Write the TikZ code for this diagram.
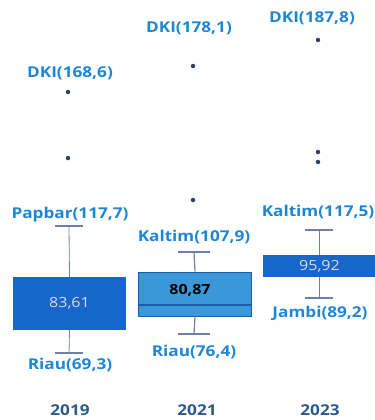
\documentclass[tikz,border=0pt]{standalone}
\usepackage{fontspec}
\setmainfont{Open Sans}[FakeStretch=1.15]
\usepackage{tikz}

\definecolor{lblblue}{HTML}{1E86D6}
\definecolor{boxdark}{HTML}{1766C9}
\definecolor{boxlight}{HTML}{3A97D8}
\definecolor{boxedge}{HTML}{1A5BAA}
\definecolor{wskgrey}{HTML}{6E7FA8}
\definecolor{dotnavy}{HTML}{2C406E}
\definecolor{yrblue}{HTML}{2D5A8C}

\tikzset{
  lbl/.style={text=lblblue, font=\fontsize{15}{17}\selectfont\bfseries, inner sep=0pt},
  yr/.style={text=yrblue, font=\fontsize{15}{17}\selectfont\bfseries, inner sep=0pt},
  outl/.style={circle, fill=dotnavy, inner sep=0pt, minimum size=4.5bp},
  wsk/.style={draw=wskgrey, line width=0.8bp},
  capline/.style={draw=wskgrey, line width=1.2bp},
  boxA/.style={rectangle, fill=boxdark, inner sep=0pt, text=white!85!blue,
    font=\fontsize{14}{16}\selectfont},
  boxB/.style={rectangle, fill=boxlight, draw=boxedge, line width=1bp, inner sep=0pt}
}

\begin{document}
\begin{tikzpicture}[x=1bp,y=-1bp]
    \useasboundingbox (0,0) rectangle (375,420);

    % 2019
    \node[boxA, minimum width=113bp, minimum height=53bp] (b19) at (69.5,303.5) {83,61};
    \coordinate (t19) at (69,226);
    \coordinate (u19) at (69,353);
    \draw[wsk] (t19) -- (b19.north);
    \draw[wsk] (b19.south) -- (u19);
    \draw[capline] ([xshift=-13.5bp]t19) -- ([xshift=13.5bp]t19);
    \draw[capline] ([xshift=-13.5bp]u19) -- ([xshift=13.5bp]u19);
    \node[outl] (o19a) at (68,92) {};
    \node[outl] (o19b) at (68,158) {};
    \node[lbl] (dki19) at (70,73) {DKI(168,6)};
    \node[lbl] (max19) at (70,215) {Papbar(117,7)};
    \node[lbl] (min19) at (70,365) {Riau(69,3)};
    \node[yr] (y19) at (70,410) {2019};

    % 2021
    \node[boxB, minimum width=113bp, minimum height=44bp] (b21) at (195,294) {};
    \node[text=black, font=\fontsize{14}{16}\selectfont\bfseries, inner sep=0pt] (m21) at (190,290) {80,87};
    \draw[draw=boxedge, line width=1.2bp] ([yshift=-11bp]b21.west) -- ([yshift=-11bp]b21.east);
    \coordinate (t21) at (194,252);
    \coordinate (u21) at (194,334);
    \draw[wsk, line width=1.2bp] (t21) -- (b21.north);
    \draw[wsk, line width=1.2bp] (b21.south) -- (u21);
    \draw[capline] ([xshift=-16bp]t21) -- ([xshift=16bp]t21);
    \draw[capline] ([xshift=-16bp]u21) -- ([xshift=16bp]u21);
    \node[outl] (o21a) at (193,66) {};
    \node[outl] (o21b) at (193,200) {};
    \node[lbl] (dki21) at (189,28) {DKI(178,1)};
    \node[lbl] (max21) at (194,237) {Kaltim(107,9)};
    \node[lbl] (min21) at (194,352) {Riau(76,4)};
    \node[yr] (y21) at (197,410) {2021};

    % 2023
    \node[boxA, minimum width=113bp, minimum height=22bp] (b23) at (319.5,266) {95,92};
    \coordinate (t23) at (319,230);
    \coordinate (u23) at (319,298);
    \draw[wsk] (t23) -- (b23.north -| t23);
    \draw[wsk] (b23.south -| u23) -- (u23);
    \draw[capline] ([xshift=-14bp]t23) -- ([xshift=14bp]t23);
    \draw[capline] ([xshift=-14bp]u23) -- ([xshift=14bp]u23);
    \node[outl] (o23a) at (318,40) {};
    \node[outl] (o23b) at (318,152) {};
    \node[outl] (o23c) at (318,162) {};
    \node[lbl] (dki23) at (312,18) {DKI(187,8)};
    \node[lbl] (max23) at (318,212) {Kaltim(117,5)};
    \node[lbl] (min23) at (320,313) {Jambi(89,2)};
    \node[yr] (y23) at (320,410) {2023};
\end{tikzpicture}
\end{document}
